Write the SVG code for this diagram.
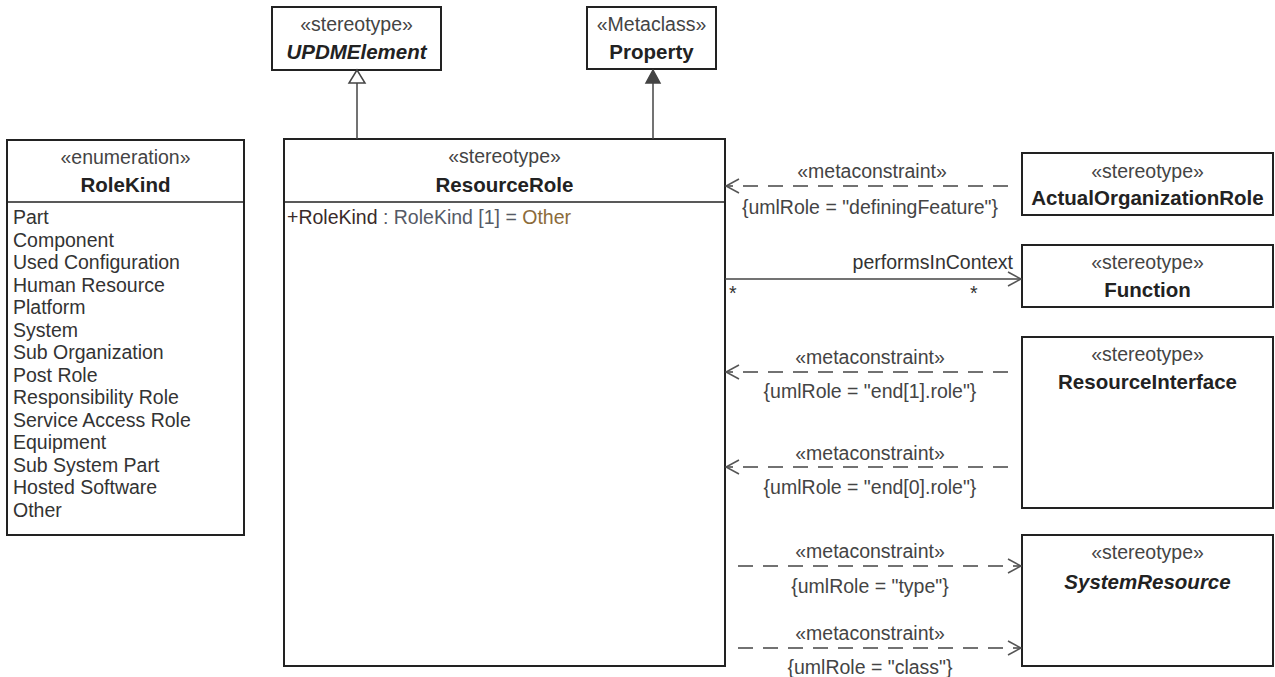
<svg xmlns="http://www.w3.org/2000/svg" width="1275" height="677" viewBox="0 0 1275 677">
<style>
.box{fill:#fff;stroke:#222;stroke-width:2}
.sep{stroke:#222;stroke-width:1.5}
text{font-family:"Liberation Sans",Arial,sans-serif;font-size:19.5px;fill:#333}
.st{text-anchor:middle;fill:#444}
.nm{text-anchor:middle;font-weight:bold;font-size:20.5px;fill:#222}
.it{font-style:italic}
.lbl{text-anchor:middle;fill:#444}
.ln{stroke:#444;stroke-width:1.5;fill:none}
.dash{stroke:#444;stroke-width:1.5;fill:none;stroke-dasharray:15 10}
.ah{stroke:#555;stroke-width:1.5;fill:none}
</style>
<rect width="1275" height="677" fill="#fff"/>
<g id="UPDMElement">
<rect class="box" x="272" y="7" width="169" height="63"/>
<text class="st" x="356.5" y="31">«stereotype»</text>
<text class="nm it" x="356.5" y="59">UPDMElement</text>
</g>
<g id="Property">
<rect class="box" x="587" y="7" width="129" height="62"/>
<text class="st" x="651.5" y="31">«Metaclass»</text>
<text class="nm" x="651.5" y="59">Property</text>
</g>
<g id="RoleKind">
<rect class="box" x="7" y="140" width="237" height="395"/>
<line class="sep" x1="7" y1="202" x2="244" y2="202"/>
<text class="st" x="125.5" y="164">«enumeration»</text>
<text class="nm" x="125.5" y="192">RoleKind</text>
<text x="13" y="224">Part</text>
<text x="13" y="246.5">Component</text>
<text x="13" y="269">Used Configuration</text>
<text x="13" y="291.5">Human Resource</text>
<text x="13" y="314">Platform</text>
<text x="13" y="336.5">System</text>
<text x="13" y="359">Sub Organization</text>
<text x="13" y="381.5">Post Role</text>
<text x="13" y="404">Responsibility Role</text>
<text x="13" y="426.5">Service Access Role</text>
<text x="13" y="449">Equipment</text>
<text x="13" y="471.5">Sub System Part</text>
<text x="13" y="494">Hosted Software</text>
<text x="13" y="516.5">Other</text>
</g>
<g id="ResourceRole">
<rect class="box" x="284" y="139" width="441" height="527"/>
<line class="sep" x1="284" y1="202" x2="725" y2="202"/>
<text class="st" x="504.5" y="163">«stereotype»</text>
<text class="nm" x="504.5" y="192">ResourceRole</text>
<text x="287" y="224"><tspan fill="#3a2a2a">+RoleKind</tspan><tspan fill="#555a66"> : RoleKind [1] = </tspan><tspan fill="#8b6b3a">Other</tspan></text>
</g>
<g id="ActualOrganizationRole">
<rect class="box" x="1022" y="153" width="251" height="62"/>
<text class="st" x="1147.5" y="178">«stereotype»</text>
<text class="nm" x="1147.5" y="205">ActualOrganizationRole</text>
</g>
<g id="Function">
<rect class="box" x="1022" y="245" width="251" height="62"/>
<text class="st" x="1147.5" y="269">«stereotype»</text>
<text class="nm" x="1147.5" y="297">Function</text>
</g>
<g id="ResourceInterface">
<rect class="box" x="1022" y="337" width="251" height="171"/>
<text class="st" x="1147.5" y="361">«stereotype»</text>
<text class="nm" x="1147.5" y="389">ResourceInterface</text>
</g>
<g id="SystemResource">
<rect class="box" x="1022" y="535" width="251" height="131"/>
<text class="st" x="1147.5" y="559">«stereotype»</text>
<text class="nm it" x="1147.5" y="589">SystemResource</text>
</g>
<g id="connectors">
<line class="ln" x1="357" y1="139" x2="357" y2="83"/>
<polygon points="357,70 349,83 365,83" fill="#fff" stroke="#444" stroke-width="1.5"/>
<line class="ln" x1="653" y1="139" x2="653" y2="83"/>
<polygon points="653,70 646,83 660,83" fill="#444" stroke="#444" stroke-width="1.5"/>
<line class="dash" x1="1008" y1="186" x2="727" y2="186"/>
<polyline class="ah" points="739,179 726,186 739,193"/>
<text class="lbl" x="872" y="178">«metaconstraint»</text>
<text class="lbl" x="870" y="214">{umlRole = "definingFeature"}</text>
<line class="ln" x1="725" y1="279" x2="1021" y2="279"/>
<polyline class="ah" points="1008,272 1021,279 1008,286"/>
<text x="1013" y="269" text-anchor="end" fill="#444">performsInContext</text>
<text x="729" y="300" fill="#555">*</text>
<text x="970" y="300" fill="#555">*</text>
<line class="dash" x1="1008" y1="372" x2="727" y2="372"/>
<polyline class="ah" points="739,365 726,372 739,379"/>
<text class="lbl" x="870" y="364">«metaconstraint»</text>
<text class="lbl" x="870" y="398">{umlRole = "end[1].role"}</text>
<line class="dash" x1="1008" y1="467" x2="727" y2="467"/>
<polyline class="ah" points="739,460 726,467 739,474"/>
<text class="lbl" x="870" y="460">«metaconstraint»</text>
<text class="lbl" x="870" y="494">{umlRole = "end[0].role"}</text>
<line class="dash" x1="738" y1="566" x2="1020" y2="566"/>
<polyline class="ah" points="1008,559 1021,566 1008,573"/>
<text class="lbl" x="870" y="558">«metaconstraint»</text>
<text class="lbl" x="870" y="593">{umlRole = "type"}</text>
<line class="dash" x1="738" y1="648" x2="1020" y2="648"/>
<polyline class="ah" points="1008,641 1021,648 1008,655"/>
<text class="lbl" x="870" y="640">«metaconstraint»</text>
<text class="lbl" x="870" y="674">{umlRole = "class"}</text>
</g>
</svg>
